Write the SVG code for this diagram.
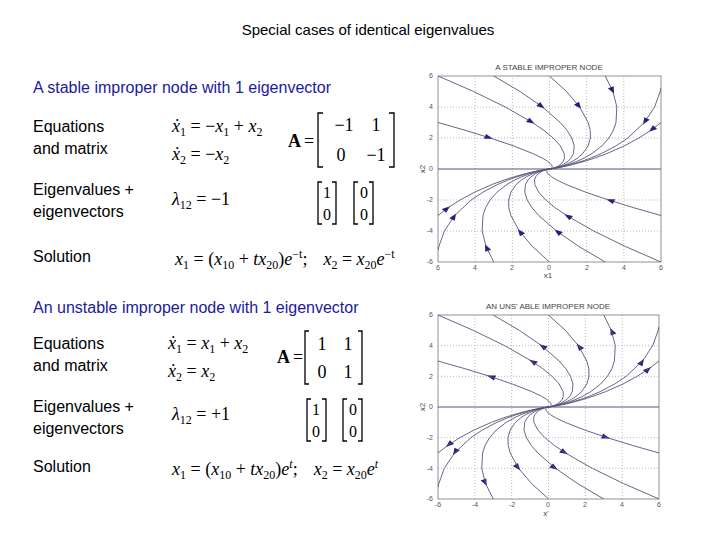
<svg xmlns="http://www.w3.org/2000/svg" xmlns:xlink="http://www.w3.org/1999/xlink" width="720" height="540" viewBox="0 0 720 540">
<style>
.t{font-family:"Liberation Sans",Arial,sans-serif;font-size:16px;fill:#000}
.h{font-family:"Liberation Sans",Arial,sans-serif;font-size:16px;fill:#1a1a9c}
.m{font-family:"Liberation Serif","Times New Roman",serif;font-size:18px;fill:#000}
.i{font-style:italic}
.s{font-size:12px}
.br{fill:none;stroke:#000;stroke-width:1.3}
.cv{fill:none;stroke:#55557a;stroke-width:0.9;vector-effect:non-scaling-stroke}
.gr{stroke:#999;stroke-width:0.7;stroke-dasharray:1 2;vector-effect:non-scaling-stroke}
.ax{stroke:#55557a;stroke-width:1;vector-effect:non-scaling-stroke}
.fr{fill:#fff;stroke:#777;stroke-width:0.8}
.tk{font-family:"Liberation Sans",Arial,sans-serif;font-size:7px;fill:#555}
.pt{font-family:"Liberation Sans",Arial,sans-serif;font-size:8px;fill:#444}
</style>
<defs>
<marker id="af" markerUnits="userSpaceOnUse" markerWidth="1" markerHeight="1" refX="0" refY="0" orient="auto" overflow="visible"><path d="M-0.3,-0.17 L0.15,0 L-0.3,0.17 Z" fill="#22227a"/></marker>
<marker id="ab" markerUnits="userSpaceOnUse" markerWidth="1" markerHeight="1" refX="0" refY="0" orient="auto" overflow="visible"><path d="M0.3,-0.17 L-0.15,0 L0.3,0.17 Z" fill="#22227a"/></marker>
<clipPath id="cp" clipPathUnits="userSpaceOnUse"><rect x="-6" y="-6" width="12" height="12"/></clipPath>
<g id="grid">
<path class="gr" d="M-4,-6V6M-2,-6V6M0,-6V6M2,-6V6M4,-6V6M-6,-4H6M-6,-2H6M-6,2H6M-6,4H6"/>
<path class="ax" d="M-6,0H6"/>
</g>
<g id="halfS">
<polyline class="cv" marker-end="url(#af)" points="-6,6 -4.085,5 -2.376,4 -0.921,3"/><polyline class="cv" points="-0.921,3 -0.31,2.5 0.198,2 0.58,1.5 0.792,1 0.804,0.7 0.743,0.5 0.599,0.3 0.48,0.2 0.31,0.1 0.189,0.05 0.094,0.02 0,0"/>
<polyline class="cv" marker-end="url(#af)" points="-6,3 -4.54,2.5 -3.19,2"/><polyline class="cv" points="-3.19,2 -1.96,1.5 -0.901,1 -0.381,0.7 -0.104,0.5 0.091,0.3 0.142,0.2 0.14,0.1 0.105,0.05 0.06,0.02 0,0"/>
<polyline class="cv" marker-end="url(#af)" points="-3,6 -1.585,5 -0.376,4"/><polyline class="cv" points="-0.376,4 0.579,3 0.94,2.5 1.198,2 1.33,1.5 1.292,1 1.154,0.7 0.993,0.5 0.749,0.3 0.58,0.2 0.36,0.1 0.214,0.05 0.104,0.02 0,0"/>
<polyline class="cv" marker-end="url(#af)" points="0,6 0.915,5 1.624,4"/><polyline class="cv" points="1.624,4 2.079,3 2.19,2.5 2.198,2 2.08,1.5 1.792,1 1.504,0.7 1.243,0.5 0.899,0.3 0.68,0.2 0.41,0.1 0.239,0.05 0.114,0.02 0,0"/>
<polyline class="cv" marker-end="url(#af)" points="3,6 3.415,5"/><polyline class="cv" points="3.415,5 3.624,4 3.579,3 3.44,2.5 3.198,2 2.83,1.5 2.292,1 1.854,0.7 1.493,0.5 1.049,0.3 0.78,0.2 0.46,0.1 0.264,0.05 0.124,0.02 0,0"/>
<polyline class="cv" marker-end="url(#af)" points="6,5.25 5.955,5 5.656,4 5.103,3"/><polyline class="cv" points="5.103,3 4.214,2 3.59,1.5 2.8,1 2.21,0.7 1.747,0.5 1.201,0.3 0.882,0.2 0.51,0.1 0.29,0.05 0.134,0.02 0,0"/>
<polyline class="cv" marker-end="url(#af)" points="6,3 5.46,2.5"/><polyline class="cv" points="5.46,2.5 4.81,2 4.04,1.5 3.099,1 2.419,0.7 1.896,0.5 1.291,0.3 0.942,0.2 0.54,0.1 0.305,0.05 0.14,0.02 0,0"/>
</g>
<g id="halfU">
<polyline class="cv" marker-end="url(#ab)" points="-6,6 -4.085,5 -2.376,4 -0.921,3"/><polyline class="cv" points="-0.921,3 -0.31,2.5 0.198,2 0.58,1.5 0.792,1 0.804,0.7 0.743,0.5 0.599,0.3 0.48,0.2 0.31,0.1 0.189,0.05 0.094,0.02 0,0"/>
<polyline class="cv" marker-end="url(#ab)" points="-6,3 -4.54,2.5 -3.19,2"/><polyline class="cv" points="-3.19,2 -1.96,1.5 -0.901,1 -0.381,0.7 -0.104,0.5 0.091,0.3 0.142,0.2 0.14,0.1 0.105,0.05 0.06,0.02 0,0"/>
<polyline class="cv" marker-end="url(#ab)" points="-3,6 -1.585,5 -0.376,4"/><polyline class="cv" points="-0.376,4 0.579,3 0.94,2.5 1.198,2 1.33,1.5 1.292,1 1.154,0.7 0.993,0.5 0.749,0.3 0.58,0.2 0.36,0.1 0.214,0.05 0.104,0.02 0,0"/>
<polyline class="cv" marker-end="url(#ab)" points="0,6 0.915,5 1.624,4"/><polyline class="cv" points="1.624,4 2.079,3 2.19,2.5 2.198,2 2.08,1.5 1.792,1 1.504,0.7 1.243,0.5 0.899,0.3 0.68,0.2 0.41,0.1 0.239,0.05 0.114,0.02 0,0"/>
<polyline class="cv" marker-end="url(#ab)" points="3,6 3.415,5"/><polyline class="cv" points="3.415,5 3.624,4 3.579,3 3.44,2.5 3.198,2 2.83,1.5 2.292,1 1.854,0.7 1.493,0.5 1.049,0.3 0.78,0.2 0.46,0.1 0.264,0.05 0.124,0.02 0,0"/>
<polyline class="cv" marker-end="url(#ab)" points="6,5.25 5.955,5 5.656,4 5.103,3"/><polyline class="cv" points="5.103,3 4.214,2 3.59,1.5 2.8,1 2.21,0.7 1.747,0.5 1.201,0.3 0.882,0.2 0.51,0.1 0.29,0.05 0.134,0.02 0,0"/>
<polyline class="cv" marker-end="url(#ab)" points="6,3 5.46,2.5"/><polyline class="cv" points="5.46,2.5 4.81,2 4.04,1.5 3.099,1 2.419,0.7 1.896,0.5 1.291,0.3 0.942,0.2 0.54,0.1 0.305,0.05 0.14,0.02 0,0"/>
</g>
</defs>

<text class="t" x="368" y="35" text-anchor="middle" style="font-size:15px">Special cases of identical eigenvalues</text>

<g id="section1">
<text class="h" x="33" y="93">A stable improper node with 1 eigenvector</text>
<text class="t" x="33" y="132">Equations</text>
<text class="t" x="33" y="154">and matrix</text>
<text class="t" x="33" y="195">Eigenvalues +</text>
<text class="t" x="33" y="217">eigenvectors</text>
<text class="t" x="33" y="262">Solution</text>
<text class="m" x="172" y="132"><tspan class="i">ẋ</tspan><tspan class="s" dy="4">1</tspan><tspan dy="-4"> = −</tspan><tspan class="i">x</tspan><tspan class="s" dy="4">1</tspan><tspan dy="-4"> + </tspan><tspan class="i">x</tspan><tspan class="s" dy="4">2</tspan></text>
<text class="m" x="172" y="160"><tspan class="i">ẋ</tspan><tspan class="s" dy="4">2</tspan><tspan dy="-4"> = −</tspan><tspan class="i">x</tspan><tspan class="s" dy="4">2</tspan></text>
<text class="m" x="288" y="147" font-weight="bold">A</text><text class="m" x="304" y="147">=</text>
<path class="br" d="M323,113H318V167H323M389,113H394V167H389"/>
<text class="m" x="344" y="131" text-anchor="middle">−1</text><text class="m" x="376" y="131" text-anchor="middle">1</text>
<text class="m" x="341" y="161" text-anchor="middle">0</text><text class="m" x="376" y="161" text-anchor="middle">−1</text>
<text class="m" x="172" y="205"><tspan class="i">λ</tspan><tspan class="s" dy="4">12</tspan><tspan dy="-4"> = −1</tspan></text>
<path class="br" d="M322,182H318V224H322M332,182H336V224H332M358,182H354V224H358M369,182H373V224H369"/>
<text class="m" x="327" y="198" text-anchor="middle" style="font-size:16px">1</text><text class="m" x="327" y="220" text-anchor="middle" style="font-size:16px">0</text>
<text class="m" x="364" y="198" text-anchor="middle" style="font-size:16px">0</text><text class="m" x="364" y="220" text-anchor="middle" style="font-size:16px">0</text>
<text class="m" x="175" y="265"><tspan class="i">x</tspan><tspan class="s" dy="4">1</tspan><tspan dy="-4"> = (</tspan><tspan class="i">x</tspan><tspan class="s" dy="4">10</tspan><tspan dy="-4"> + </tspan><tspan class="i">tx</tspan><tspan class="s" dy="4">20</tspan><tspan dy="-4">)</tspan><tspan class="i">e</tspan><tspan class="s" dy="-7">−t</tspan><tspan dy="7">;</tspan><tspan class="i" dx="16">x</tspan><tspan class="s" dy="4">2</tspan><tspan dy="-4"> = </tspan><tspan class="i">x</tspan><tspan class="s" dy="4">20</tspan><tspan class="i" dy="-4">e</tspan><tspan class="s" dy="-7">−t</tspan></text>
</g>

<g id="section2">
<text class="h" x="33" y="313">An unstable improper node with 1 eigenvector</text>
<text class="t" x="33" y="349">Equations</text>
<text class="t" x="33" y="371">and matrix</text>
<text class="t" x="33" y="412">Eigenvalues +</text>
<text class="t" x="33" y="434">eigenvectors</text>
<text class="t" x="33" y="472">Solution</text>
<text class="m" x="168" y="349"><tspan class="i">ẋ</tspan><tspan class="s" dy="4">1</tspan><tspan dy="-4"> = </tspan><tspan class="i">x</tspan><tspan class="s" dy="4">1</tspan><tspan dy="-4"> + </tspan><tspan class="i">x</tspan><tspan class="s" dy="4">2</tspan></text>
<text class="m" x="168" y="377"><tspan class="i">ẋ</tspan><tspan class="s" dy="4">2</tspan><tspan dy="-4"> = </tspan><tspan class="i">x</tspan><tspan class="s" dy="4">2</tspan></text>
<text class="m" x="277" y="363" font-weight="bold">A</text><text class="m" x="293" y="363">=</text>
<path class="br" d="M309,331H305V384H309M358,331H362V384H358"/>
<text class="m" x="322" y="350" text-anchor="middle">1</text><text class="m" x="348" y="350" text-anchor="middle">1</text>
<text class="m" x="322" y="378" text-anchor="middle">0</text><text class="m" x="348" y="378" text-anchor="middle">1</text>
<text class="m" x="172" y="420"><tspan class="i">λ</tspan><tspan class="s" dy="4">12</tspan><tspan dy="-4"> = +1</tspan></text>
<path class="br" d="M311,399H307V441H311M322,399H326V441H322M347,399H343V441H347M358,399H362V441H358"/>
<text class="m" x="316" y="415" text-anchor="middle" style="font-size:16px">1</text><text class="m" x="316" y="437" text-anchor="middle" style="font-size:16px">0</text>
<text class="m" x="353" y="415" text-anchor="middle" style="font-size:16px">0</text><text class="m" x="353" y="437" text-anchor="middle" style="font-size:16px">0</text>
<text class="m" x="172" y="475"><tspan class="i">x</tspan><tspan class="s" dy="4">1</tspan><tspan dy="-4"> = (</tspan><tspan class="i">x</tspan><tspan class="s" dy="4">10</tspan><tspan dy="-4"> + </tspan><tspan class="i">tx</tspan><tspan class="s" dy="4">20</tspan><tspan dy="-4">)</tspan><tspan class="i">e</tspan><tspan class="s i" dy="-7">t</tspan><tspan dy="7">;</tspan><tspan class="i" dx="16">x</tspan><tspan class="s" dy="4">2</tspan><tspan dy="-4"> = </tspan><tspan class="i">x</tspan><tspan class="s" dy="4">20</tspan><tspan class="i" dy="-4">e</tspan><tspan class="s i" dy="-7">t</tspan></text>
</g>

<g id="plot1">
<rect class="fr" x="438" y="76" width="223" height="186"/>
<g transform="translate(549.5,169) scale(18.58,-15.5)">
<use xlink:href="#grid"/>
<g clip-path="url(#cp)"><use xlink:href="#halfS"/><use xlink:href="#halfS" transform="scale(-1,-1)"/></g>
</g>
<text class="pt" x="549" y="70" text-anchor="middle">A STABLE IMPROPER NODE</text>
<text class="tk" x="433" y="78" text-anchor="end">6</text><text class="tk" x="433" y="109" text-anchor="end">4</text><text class="tk" x="433" y="140" text-anchor="end">2</text><text class="tk" x="433" y="171" text-anchor="end">0</text><text class="tk" x="433" y="202" text-anchor="end">-2</text><text class="tk" x="433" y="233" text-anchor="end">-4</text><text class="tk" x="433" y="264" text-anchor="end">-6</text>
<text class="tk" x="438" y="270" text-anchor="middle">6</text><text class="tk" x="475" y="270" text-anchor="middle">4</text><text class="tk" x="512" y="270" text-anchor="middle">2</text><text class="tk" x="549" y="270" text-anchor="middle">0</text><text class="tk" x="587" y="270" text-anchor="middle">2</text><text class="tk" x="624" y="270" text-anchor="middle">4</text><text class="tk" x="661" y="270" text-anchor="middle">6</text>
<text class="pt" x="548" y="278" text-anchor="middle">x1</text>
<text class="pt" x="425" y="169" text-anchor="middle" transform="rotate(-90 425 169)">x2</text>
</g>

<g id="plot2">
<rect class="fr" x="438" y="315" width="221" height="184"/>
<g transform="translate(548.5,407) scale(18.42,-15.33)">
<use xlink:href="#grid"/>
<g clip-path="url(#cp)"><use xlink:href="#halfU"/><use xlink:href="#halfU" transform="scale(-1,-1)"/></g>
</g>
<text class="pt" x="548" y="309" text-anchor="middle">AN UNS' ABLE IMPROPER NODE</text>
<text class="tk" x="433" y="317" text-anchor="end">6</text><text class="tk" x="433" y="348" text-anchor="end">4</text><text class="tk" x="433" y="379" text-anchor="end">2</text><text class="tk" x="433" y="409" text-anchor="end">0</text><text class="tk" x="433" y="440" text-anchor="end">-2</text><text class="tk" x="433" y="471" text-anchor="end">-4</text><text class="tk" x="433" y="501" text-anchor="end">-6</text>
<text class="tk" x="438" y="507" text-anchor="middle">-6</text><text class="tk" x="475" y="507" text-anchor="middle">-4</text><text class="tk" x="512" y="507" text-anchor="middle">-2</text><text class="tk" x="548" y="507" text-anchor="middle">0</text><text class="tk" x="585" y="507" text-anchor="middle">2</text><text class="tk" x="622" y="507" text-anchor="middle">4</text><text class="tk" x="659" y="507" text-anchor="middle">6</text>
<text class="pt" x="546" y="516" text-anchor="middle">x'</text>
<text class="pt" x="425" y="407" text-anchor="middle" transform="rotate(-90 425 407)">x2</text>
</g>
</svg>
